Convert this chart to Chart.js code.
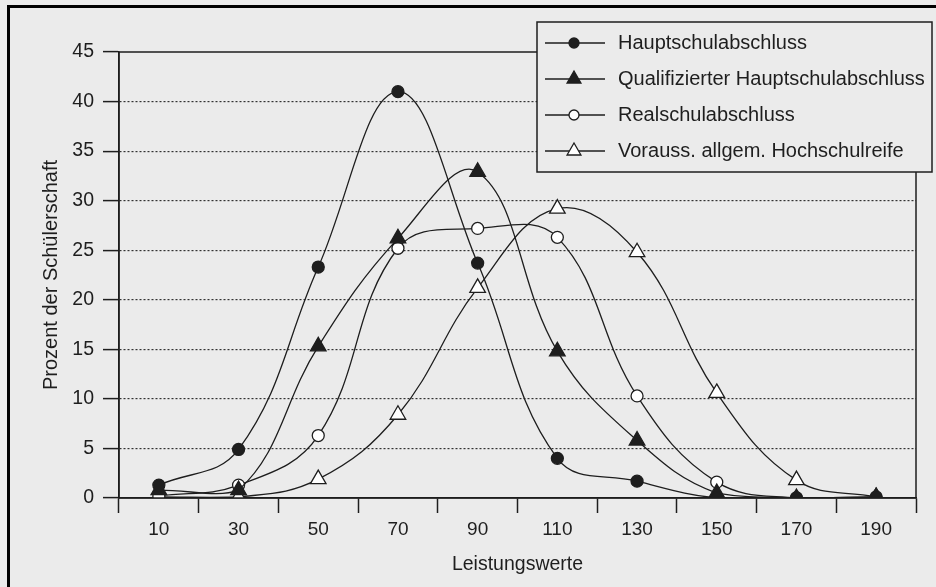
<!DOCTYPE html>
<html>
<head>
<meta charset="utf-8">
<script src="https://cdn.jsdelivr.net/npm/chart.js@4/dist/chart.umd.min.js"></script>
<style>
  html, body { margin: 0; padding: 0; background: #ebebeb; }
  #wrap { width: 936px; height: 587px; }
</style>
</head>
<body>
<div id="wrap"><canvas id="lineChart" width="936" height="587"></canvas></div>
<script>
var leistung = ["10", "30", "50", "70", "90", "110", "130", "150", "170", "190"];
var hauptschul = [1.3, 4.9, 23.3, 41.0, 23.7, 4.0, 1.7, 0.0, 0.0, 0.0];
var qualifiziert = [0.8, 0.8, 15.3, 26.2, 32.9, 14.8, 5.8, 0.5, 0.0, 0.1];
var realschul = [0.2, 1.3, 6.3, 25.2, 27.2, 26.3, 10.3, 1.6, 0.0, 0.1];
var hochschulreife = [0.1, 0.1, 1.9, 8.4, 21.2, 29.2, 24.8, 10.6, 1.8, 0.1];
var yTicks = [0, 5, 10, 15, 20, 25, 30, 35, 40, 45];

var FONT = "'Liberation Sans', Arial, sans-serif";
var INK = "#1e1e1e";

function serie(label, data, style, radius, fill) {
    return {
        label: label,
        data: data,
        borderColor: INK,
        borderWidth: 1.3,
        tension: 0.4,
        pointStyle: style,
        pointRadius: radius,
        pointHoverRadius: radius,
        pointBackgroundColor: fill,
        pointBorderColor: INK,
        pointBorderWidth: 1.3
    };
}

// box round the plot area plus the frame of the scan
var rahmen = {
    id: "rahmen",
    beforeDraw: function (chart) {
        var c = chart.ctx;
        c.save();
        c.fillStyle = "#ebebeb";
        c.fillRect(0, 0, chart.width, chart.height);
        c.strokeStyle = "#000";
        c.lineWidth = 3;
        c.beginPath();
        c.moveTo(8.5, chart.height);
        c.lineTo(8.5, 6.5);
        c.lineTo(chart.width, 6.5);
        c.stroke();
        c.restore();
    },
    afterDatasetsDraw: function (chart) {
        var a = chart.chartArea, c = chart.ctx;
        c.save();
        c.strokeStyle = INK;
        c.lineWidth = 1.5;
        c.strokeRect(a.left, a.top, a.right - a.left, a.bottom - a.top);
        c.restore();
    }
};

// legend box: line with marker, then the label
var legende = {
    id: "legende",
    afterDraw: function (chart) {
        var c = chart.ctx;
        var x0 = 537, y0 = 22, w = 395, h = 150;
        c.save();
        c.fillStyle = "#ebebeb";
        c.fillRect(x0, y0, w, h);
        c.strokeStyle = INK;
        c.lineWidth = 1.5;
        c.strokeRect(x0, y0, w, h);
        c.font = "20px " + FONT;
        c.textBaseline = "middle";
        chart.data.datasets.forEach(function (ds, i) {
            var y = y0 + 21 + i * 36;
            c.strokeStyle = INK;
            c.lineWidth = 1.3;
            c.beginPath();
            c.moveTo(x0 + 8, y);
            c.lineTo(x0 + 68, y);
            c.stroke();
            c.fillStyle = ds.pointBackgroundColor;
            Chart.helpers.drawPoint(c, {
                pointStyle: ds.pointStyle,
                radius: ds.pointStyle === "triangle" ? 8 : 5,
                rotation: 0,
                borderWidth: 1.3
            }, x0 + 37, y);
            c.fillStyle = INK;
            c.fillText(ds.label, x0 + 81, y);
        });
        c.restore();
    }
};

var lineData = {
    labels: leistung,
    datasets: [
        serie("Hauptschulabschluss", hauptschul, "circle", 6, INK),
        serie("Qualifizierter Hauptschulabschluss", qualifiziert, "triangle", 9, INK),
        serie("Realschulabschluss", realschul, "circle", 6, "#ffffff"),
        serie("Vorauss. allgem. Hochschulreife", hochschulreife, "triangle", 9, "#ffffff")
    ]
};

var lineOptions = {
    responsive: false,
    animation: false,
    layout: { padding: { left: 0, top: 52, right: 20, bottom: 0 } },
    plugins: { legend: { display: false }, tooltip: { enabled: false } },
    scales: {
        x: {
            type: "category",
            offset: true,
            grid: {
                offset: true,
                drawOnChartArea: false,
                tickLength: 15,
                tickColor: INK,
                tickWidth: 1.5,
                tickBorderDash: []
            },
            border: { color: INK, width: 1.5 },
            ticks: { color: INK, font: { family: FONT, size: 19 }, padding: 5, maxRotation: 0 },
            title: {
                display: true,
                text: "Leistungswerte",
                color: INK,
                font: { family: FONT, size: 19.5 },
                padding: { top: 0, bottom: 11 }
            },
            afterFit: function (s) { s.height = 89; }
        },
        y: {
            min: 0,
            max: 45,
            afterBuildTicks: function (s) {
                s.ticks = yTicks.map(function (v) { return { value: v }; });
            },
            grid: {
                color: function (ctx) {
                    var v = ctx.tick ? ctx.tick.value : 0;
                    return (v === 0 || v === 45) ? "rgba(0,0,0,0)" : "#333";
                },
                lineWidth: 1.2,
                tickLength: 16,
                tickColor: INK,
                tickWidth: 1.5,
                tickBorderDash: []
            },
            border: { color: INK, width: 1.5, dash: [2, 2] },
            ticks: { color: INK, font: { family: FONT, size: 19.5 }, padding: 9 },
            title: {
                display: true,
                text: "Prozent der Schülerschaft",
                color: INK,
                font: { family: FONT, size: 20 },
                padding: { top: 39, bottom: 0 }
            },
            afterFit: function (s) { s.width = 119; }
        }
    }
};

var ctx = document.getElementById("lineChart").getContext("2d");
new Chart(ctx, { type: "line", data: lineData, options: lineOptions, plugins: [rahmen, legende] });
</script>
</body>
</html>
